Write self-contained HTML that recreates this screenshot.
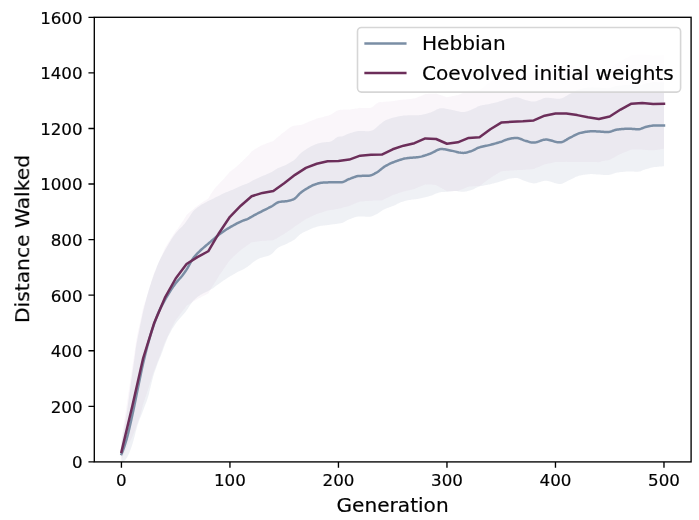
<!DOCTYPE html>
<html><head><meta charset="utf-8"><style>
html,body{margin:0;padding:0;background:#fff;}
svg{display:block;}
text{font-family:"DejaVu Sans","Liberation Sans",sans-serif;fill:#000;}
.t{opacity:0.999;} text{stroke:#000;stroke-width:0.2px;}
</style></head><body>
<svg width="699" height="520" viewBox="0 0 699 520">
<rect width="699" height="520" fill="#fff"/>
<polygon points="121.4,443.0 122.5,437.3 123.6,431.4 124.7,425.1 125.8,418.6 126.9,411.9 127.9,404.7 129.0,397.0 130.1,389.0 131.2,381.1 132.3,373.5 133.4,366.0 134.5,358.2 135.5,350.6 136.6,343.6 137.7,337.7 138.8,332.4 139.9,327.1 141.0,321.8 142.0,316.7 143.1,311.8 144.2,307.2 145.3,302.8 146.4,298.6 147.5,294.6 148.6,290.8 149.6,287.3 150.7,283.9 151.8,280.6 152.9,277.4 154.0,274.3 155.1,271.4 156.2,268.5 157.2,265.8 158.3,263.2 159.4,260.8 160.5,258.6 161.6,256.5 162.7,254.6 163.7,252.6 164.8,250.7 165.9,248.8 167.0,246.8 168.1,244.9 169.2,243.1 170.3,241.3 171.3,239.5 172.4,237.8 173.5,236.2 174.6,234.7 175.7,233.2 176.8,231.9 177.9,230.7 178.9,229.6 180.0,228.6 181.1,227.5 182.2,226.4 183.3,225.1 184.4,223.9 185.5,222.5 186.5,221.1 187.6,219.6 188.7,217.9 189.8,216.2 190.9,214.4 192.0,212.8 193.0,211.5 194.1,210.3 195.2,209.3 196.3,208.4 197.4,207.5 198.5,206.7 199.6,206.0 200.6,205.3 201.7,204.6 202.8,204.0 203.9,203.4 205.0,202.8 206.1,202.2 207.2,201.6 208.2,201.1 209.3,200.5 210.4,200.0 211.5,199.5 212.6,199.0 213.7,198.4 214.7,197.8 215.8,197.3 216.9,196.7 218.0,196.2 219.1,195.7 220.2,195.2 221.3,194.6 222.3,194.1 223.4,193.5 224.5,193.1 225.6,192.6 226.7,192.1 227.8,191.7 228.9,191.2 229.9,190.8 231.0,190.3 232.1,189.9 233.2,189.4 234.3,189.0 235.4,188.5 236.4,188.0 237.5,187.5 238.6,187.0 239.7,186.5 240.8,186.0 241.9,185.5 243.0,185.1 244.0,184.7 245.1,184.3 246.2,183.9 247.3,183.5 248.4,183.0 249.5,182.4 250.6,181.8 251.6,181.2 252.7,180.6 253.8,180.0 254.9,179.5 256.0,179.0 257.1,178.5 258.2,178.0 259.2,177.5 260.3,177.0 261.4,176.6 262.5,176.1 263.6,175.6 264.7,175.2 265.7,174.7 266.8,174.2 267.9,173.8 269.0,173.3 270.1,172.8 271.2,172.3 272.3,171.7 273.3,171.1 274.4,170.3 275.5,169.6 276.6,168.9 277.7,168.2 278.8,167.8 279.9,167.4 280.9,167.0 282.0,166.6 283.1,166.1 284.2,165.7 285.3,165.2 286.4,164.7 287.4,164.1 288.5,163.5 289.6,162.8 290.7,162.2 291.8,161.5 292.9,160.9 294.0,160.2 295.0,159.3 296.1,158.2 297.2,157.0 298.3,155.7 299.4,154.5 300.5,153.5 301.6,152.6 302.6,151.7 303.7,150.9 304.8,150.2 305.9,149.5 307.0,148.8 308.1,148.1 309.2,147.5 310.2,146.8 311.3,146.2 312.4,145.7 313.5,145.2 314.6,144.7 315.7,144.3 316.7,143.9 317.8,143.6 318.9,143.2 320.0,142.9 321.1,142.7 322.2,142.6 323.3,142.4 324.3,142.3 325.4,142.2 326.5,142.1 327.6,142.0 328.7,141.9 329.8,141.8 330.9,141.5 331.9,141.0 333.0,140.3 334.1,139.5 335.2,138.6 336.3,137.8 337.4,137.1 338.4,136.7 339.5,136.5 340.6,136.5 341.7,136.4 342.8,136.2 343.9,135.8 345.0,135.3 346.0,134.8 347.1,134.3 348.2,133.8 349.3,133.5 350.4,133.1 351.5,132.8 352.6,132.4 353.6,132.0 354.7,131.7 355.8,131.4 356.9,131.2 358.0,131.0 359.1,131.0 360.1,131.0 361.2,131.0 362.3,131.1 363.4,131.1 364.5,131.1 365.6,131.2 366.7,131.2 367.7,131.2 368.8,131.2 369.9,131.0 371.0,130.8 372.1,130.4 373.2,129.9 374.3,129.2 375.3,128.4 376.4,127.5 377.5,126.5 378.6,125.5 379.7,124.5 380.8,123.7 381.9,122.8 382.9,122.0 384.0,121.2 385.1,120.6 386.2,120.1 387.3,119.6 388.4,119.2 389.4,118.8 390.5,118.4 391.6,118.0 392.7,117.7 393.8,117.4 394.9,117.2 396.0,116.9 397.0,116.7 398.1,116.5 399.2,116.3 400.3,116.1 401.4,115.9 402.5,115.8 403.6,115.6 404.6,115.5 405.7,115.4 406.8,115.4 407.9,115.3 409.0,115.3 410.1,115.3 411.1,115.3 412.2,115.3 413.3,115.3 414.4,115.3 415.5,115.3 416.6,115.3 417.7,115.3 418.7,115.2 419.8,115.1 420.9,114.9 422.0,114.7 423.1,114.5 424.2,114.3 425.3,114.0 426.3,113.7 427.4,113.4 428.5,113.1 429.6,112.7 430.7,112.4 431.8,112.0 432.9,111.5 433.9,110.9 435.0,110.4 436.1,109.8 437.2,109.3 438.3,108.9 439.4,108.5 440.4,108.3 441.5,108.2 442.6,108.2 443.7,108.3 444.8,108.5 445.9,108.7 447.0,108.9 448.0,109.1 449.1,109.4 450.2,109.6 451.3,109.8 452.4,110.0 453.5,110.3 454.6,110.5 455.6,110.8 456.7,111.1 457.8,111.3 458.9,111.6 460.0,111.8 461.1,111.9 462.1,112.0 463.2,112.0 464.3,111.9 465.4,111.7 466.5,111.5 467.6,111.2 468.7,110.8 469.7,110.4 470.8,110.1 471.9,109.6 473.0,109.1 474.1,108.6 475.2,108.0 476.3,107.4 477.3,106.8 478.4,106.3 479.5,105.9 480.6,105.6 481.7,105.4 482.8,105.1 483.9,104.9 484.9,104.7 486.0,104.5 487.1,104.4 488.2,104.2 489.3,103.9 490.4,103.7 491.4,103.5 492.5,103.2 493.6,103.0 494.7,102.7 495.8,102.4 496.9,102.2 498.0,101.9 499.0,101.6 500.1,101.3 501.2,101.0 502.3,100.6 503.4,100.2 504.5,99.8 505.6,99.4 506.6,99.1 507.7,98.7 508.8,98.4 509.9,98.2 511.0,98.0 512.1,97.8 513.1,97.6 514.2,97.4 515.3,97.3 516.4,97.3 517.5,97.4 518.6,97.6 519.7,97.9 520.7,98.3 521.8,98.8 522.9,99.2 524.0,99.6 525.1,99.9 526.2,100.2 527.3,100.5 528.3,100.8 529.4,101.1 530.5,101.3 531.6,101.5 532.7,101.6 533.8,101.6 534.8,101.5 535.9,101.3 537.0,101.0 538.1,100.6 539.2,100.1 540.3,99.7 541.4,99.2 542.4,98.7 543.5,98.3 544.6,98.0 545.7,97.8 546.8,97.7 547.9,97.7 549.0,97.8 550.0,97.9 551.1,98.0 552.2,98.2 553.3,98.3 554.4,98.5 555.5,98.6 556.6,98.8 557.6,98.8 558.7,98.8 559.8,98.8 560.9,98.6 562.0,98.2 563.1,97.8 564.1,97.2 565.2,96.6 566.3,95.9 567.4,95.2 568.5,94.6 569.6,94.0 570.7,93.4 571.7,92.9 572.8,92.4 573.9,91.8 575.0,91.2 576.1,90.6 577.2,90.1 578.3,89.7 579.3,89.3 580.4,89.0 581.5,88.8 582.6,88.5 583.7,88.3 584.8,88.1 585.8,87.9 586.9,87.8 588.0,87.6 589.1,87.5 590.2,87.4 591.3,87.4 592.4,87.3 593.4,87.4 594.5,87.4 595.6,87.4 596.7,87.5 597.8,87.6 598.9,87.6 600.0,87.7 601.0,87.8 602.1,87.9 603.2,88.0 604.3,88.1 605.4,88.1 606.5,88.2 607.6,88.2 608.6,88.2 609.7,88.0 610.8,87.7 611.9,87.3 613.0,86.9 614.1,86.6 615.1,86.2 616.2,86.0 617.3,85.8 618.4,85.7 619.5,85.6 620.6,85.5 621.7,85.4 622.7,85.3 623.8,85.2 624.9,85.1 626.0,85.1 627.1,85.1 628.2,85.0 629.3,85.0 630.3,85.1 631.4,85.2 632.5,85.3 633.6,85.4 634.7,85.5 635.8,85.6 636.8,85.7 637.9,85.7 639.0,85.6 640.1,85.4 641.2,85.1 642.3,84.7 643.4,84.3 644.4,83.9 645.5,83.6 646.6,83.3 647.7,83.1 648.8,82.9 649.9,82.7 651.0,82.5 652.0,82.3 653.1,82.2 654.2,82.1 655.3,82.1 656.4,82.1 657.5,82.2 658.5,82.2 659.6,82.2 660.7,82.2 661.8,82.3 662.9,82.3 664.0,82.3 664.0,166.2 662.9,166.3 661.8,166.4 660.7,166.5 659.6,166.6 658.5,166.7 657.5,166.8 656.4,166.9 655.3,167.0 654.2,167.1 653.1,167.3 652.0,167.6 651.0,167.8 649.9,168.1 648.8,168.4 647.7,168.7 646.6,169.0 645.5,169.3 644.4,169.7 643.4,170.1 642.3,170.6 641.2,171.0 640.1,171.4 639.0,171.6 637.9,171.8 636.8,171.8 635.8,171.7 634.7,171.7 633.6,171.6 632.5,171.5 631.4,171.5 630.3,171.4 629.3,171.4 628.2,171.5 627.1,171.5 626.0,171.6 624.9,171.7 623.8,171.8 622.7,171.9 621.7,172.0 620.6,172.1 619.5,172.3 618.4,172.4 617.3,172.5 616.2,172.7 615.1,173.0 614.1,173.4 613.0,173.8 611.9,174.2 610.8,174.5 609.7,174.8 608.6,175.0 607.6,175.1 606.5,175.1 605.4,175.1 604.3,175.0 603.2,174.9 602.1,174.8 601.0,174.7 600.0,174.6 598.9,174.5 597.8,174.5 596.7,174.4 595.6,174.3 594.5,174.2 593.4,174.2 592.4,174.1 591.3,174.1 590.2,174.1 589.1,174.2 588.0,174.3 586.9,174.4 585.8,174.5 584.8,174.7 583.7,174.8 582.6,175.0 581.5,175.2 580.4,175.4 579.3,175.6 578.3,175.9 577.2,176.4 576.1,176.8 575.0,177.3 573.9,177.9 572.8,178.4 571.7,178.9 570.7,179.4 569.6,179.9 568.5,180.5 567.4,181.1 566.3,181.7 565.2,182.3 564.1,182.8 563.1,183.3 562.0,183.7 560.9,183.9 559.8,184.0 558.7,183.9 557.6,183.7 556.6,183.5 555.5,183.2 554.4,182.9 553.3,182.6 552.2,182.2 551.1,181.8 550.0,181.5 549.0,181.2 547.9,181.0 546.8,180.8 545.7,180.7 544.6,180.8 543.5,180.9 542.4,181.2 541.4,181.5 540.3,181.9 539.2,182.2 538.1,182.6 537.0,182.9 535.9,183.2 534.8,183.3 533.8,183.4 532.7,183.3 531.6,183.1 530.5,182.8 529.4,182.5 528.3,182.2 527.3,181.8 526.2,181.4 525.1,181.1 524.0,180.7 522.9,180.3 521.8,179.8 520.7,179.3 519.7,178.8 518.6,178.4 517.5,178.1 516.4,178.0 515.3,178.0 514.2,178.1 513.1,178.2 512.1,178.3 511.0,178.5 509.9,178.6 508.8,178.8 507.7,179.1 506.6,179.4 505.6,179.8 504.5,180.2 503.4,180.6 502.3,181.0 501.2,181.3 500.1,181.6 499.0,181.9 498.0,182.2 496.9,182.5 495.8,182.8 494.7,183.1 493.6,183.4 492.5,183.6 491.4,183.9 490.4,184.2 489.3,184.4 488.2,184.6 487.1,184.9 486.0,185.1 484.9,185.2 483.9,185.4 482.8,185.7 481.7,185.9 480.6,186.1 479.5,186.4 478.4,186.8 477.3,187.3 476.3,187.8 475.2,188.3 474.1,188.9 473.0,189.4 471.9,189.8 470.8,190.2 469.7,190.5 468.7,190.8 467.6,191.1 466.5,191.4 465.4,191.6 464.3,191.8 463.2,191.8 462.1,191.8 461.1,191.7 460.0,191.5 458.9,191.4 457.8,191.2 456.7,191.1 455.6,191.1 454.6,191.1 453.5,191.1 452.4,191.2 451.3,191.3 450.2,191.5 449.1,191.6 448.0,191.7 447.0,191.7 445.9,191.8 444.8,191.9 443.7,191.9 442.6,192.0 441.5,192.0 440.4,192.2 439.4,192.4 438.3,192.7 437.2,193.2 436.1,193.6 435.0,194.1 433.9,194.6 432.9,195.1 431.8,195.5 430.7,195.8 429.6,196.1 428.5,196.4 427.4,196.7 426.3,197.0 425.3,197.3 424.2,197.5 423.1,197.8 422.0,198.1 420.9,198.3 419.8,198.6 418.7,198.8 417.7,198.9 416.6,199.1 415.5,199.2 414.4,199.3 413.3,199.5 412.2,199.6 411.1,199.7 410.1,199.9 409.0,200.1 407.9,200.2 406.8,200.5 405.7,200.7 404.6,201.0 403.6,201.4 402.5,201.7 401.4,202.1 400.3,202.6 399.2,203.0 398.1,203.6 397.0,204.1 396.0,204.7 394.9,205.2 393.8,205.7 392.7,206.1 391.6,206.5 390.5,206.9 389.4,207.3 388.4,207.7 387.3,208.1 386.2,208.5 385.1,208.9 384.0,209.4 382.9,210.1 381.9,210.8 380.8,211.6 379.7,212.3 378.6,213.1 377.5,213.8 376.4,214.3 375.3,214.8 374.3,215.3 373.2,215.8 372.1,216.2 371.0,216.5 369.9,216.7 368.8,216.8 367.7,216.8 366.7,216.7 365.6,216.7 364.5,216.6 363.4,216.6 362.3,216.5 361.2,216.5 360.1,216.5 359.1,216.5 358.0,216.5 356.9,216.7 355.8,217.0 354.7,217.3 353.6,217.7 352.6,218.1 351.5,218.5 350.4,218.9 349.3,219.3 348.2,219.8 347.1,220.3 346.0,221.0 345.0,221.6 343.9,222.2 342.8,222.7 341.7,223.1 340.6,223.3 339.5,223.5 338.4,223.6 337.4,223.7 336.3,223.9 335.2,224.0 334.1,224.2 333.0,224.3 331.9,224.5 330.9,224.6 329.8,224.8 328.7,224.9 327.6,225.0 326.5,225.2 325.4,225.3 324.3,225.4 323.3,225.6 322.2,225.7 321.1,225.8 320.0,226.0 318.9,226.3 317.8,226.5 316.7,226.8 315.7,227.2 314.6,227.5 313.5,227.8 312.4,228.2 311.3,228.7 310.2,229.2 309.2,229.7 308.1,230.2 307.0,230.8 305.9,231.2 304.8,231.8 303.7,232.3 302.6,232.8 301.6,233.5 300.5,234.1 299.4,235.0 298.3,236.0 297.2,237.1 296.1,238.2 295.0,239.2 294.0,240.0 292.9,240.6 291.8,241.2 290.7,241.7 289.6,242.3 288.5,242.8 287.4,243.4 286.4,243.9 285.3,244.4 284.2,244.9 283.1,245.3 282.0,245.8 280.9,246.3 279.9,246.8 278.8,247.3 277.7,248.0 276.6,249.0 275.5,250.1 274.4,251.3 273.3,252.4 272.3,253.5 271.2,254.3 270.1,254.9 269.0,255.4 267.9,255.9 266.8,256.2 265.7,256.5 264.7,256.8 263.6,257.1 262.5,257.4 261.4,257.7 260.3,258.1 259.2,258.5 258.2,259.0 257.1,259.6 256.0,260.3 254.9,261.0 253.8,261.8 252.7,262.6 251.6,263.5 250.6,264.4 249.5,265.3 248.4,266.1 247.3,266.9 246.2,267.6 245.1,268.3 244.0,268.9 243.0,269.4 241.9,269.9 240.8,270.4 239.7,271.0 238.6,271.5 237.5,272.1 236.4,272.7 235.4,273.3 234.3,273.9 233.2,274.5 232.1,275.2 231.0,275.8 229.9,276.4 228.9,277.1 227.8,277.8 226.7,278.5 225.6,279.2 224.5,279.9 223.4,280.6 222.3,281.4 221.3,282.1 220.2,282.9 219.1,283.8 218.0,284.6 216.9,285.3 215.8,286.1 214.7,286.9 213.7,287.7 212.6,288.4 211.5,289.1 210.4,289.7 209.3,290.3 208.2,290.9 207.2,291.4 206.1,292.0 205.0,292.5 203.9,293.1 202.8,293.6 201.7,294.2 200.6,294.8 199.6,295.5 198.5,296.3 197.4,297.1 196.3,297.9 195.2,298.9 194.1,299.9 193.0,301.0 192.0,302.4 190.9,303.9 189.8,305.6 188.7,307.3 187.6,309.0 186.5,310.5 185.5,311.9 184.4,313.2 183.3,314.6 182.2,315.8 181.1,317.1 180.0,318.3 178.9,319.5 177.9,320.8 176.8,322.1 175.7,323.6 174.6,325.2 173.5,326.9 172.4,328.6 171.3,330.5 170.3,332.4 169.2,334.4 168.1,336.6 167.0,339.2 165.9,341.9 164.8,344.8 163.7,347.8 162.7,350.7 161.6,353.6 160.5,356.4 159.4,359.1 158.3,361.8 157.2,364.5 156.2,367.5 155.1,370.5 154.0,373.8 152.9,377.6 151.8,381.9 150.7,386.5 149.6,391.1 148.6,395.2 147.5,398.8 146.4,401.9 145.3,404.7 144.2,407.6 143.1,410.5 142.0,413.4 141.0,416.0 139.9,418.6 138.8,421.4 137.7,424.7 136.6,428.4 135.5,432.6 134.5,436.7 133.4,440.8 132.3,444.4 131.2,447.7 130.1,450.7 129.0,453.4 127.9,455.8 126.9,457.7 125.8,459.3 124.7,460.6 123.6,461.5 122.5,462.2 121.4,462.5" fill="rgb(122,138,172)" fill-opacity="0.12"/>
<polygon points="121.4,440.8 122.5,433.1 123.6,425.6 124.7,418.3 125.8,411.2 126.9,404.1 127.9,396.8 129.0,389.3 130.1,381.8 131.2,374.5 132.3,367.4 133.4,360.1 134.5,352.6 135.5,345.4 136.6,338.8 137.7,333.1 138.8,328.1 139.9,323.1 141.0,318.1 142.0,313.2 143.1,308.3 144.2,304.8 145.3,301.3 146.4,297.8 147.5,294.3 148.6,290.9 149.6,287.4 150.7,283.9 151.8,280.4 152.9,277.0 154.0,273.5 155.1,271.0 156.2,268.4 157.2,265.9 158.3,263.4 159.4,260.9 160.5,258.4 161.6,255.9 162.7,253.4 163.7,250.9 164.8,248.4 165.9,246.5 167.0,244.7 168.1,243.0 169.2,241.2 170.3,239.6 171.3,237.9 172.4,236.2 173.5,234.6 174.6,232.9 175.7,231.1 176.8,229.8 177.9,228.4 178.9,226.9 180.0,225.3 181.1,223.7 182.2,222.1 183.3,220.4 184.4,218.6 185.5,216.9 186.5,215.1 187.6,214.1 188.7,213.1 189.8,212.1 190.9,211.2 192.0,210.3 193.0,209.4 194.1,208.5 195.2,207.6 196.3,206.7 197.4,205.8 198.5,205.1 199.6,204.3 200.6,203.5 201.7,202.8 202.8,202.0 203.9,201.3 205.0,200.6 206.1,199.9 207.2,199.2 208.2,198.5 209.3,196.7 210.4,194.8 211.5,193.1 212.6,191.5 213.7,190.0 214.7,188.6 215.8,187.3 216.9,186.1 218.0,184.9 219.1,183.7 220.2,182.6 221.3,181.6 222.3,180.5 223.4,179.2 224.5,178.0 225.6,176.7 226.7,175.5 227.8,174.2 228.9,173.0 229.9,171.7 231.0,170.9 232.1,170.1 233.2,169.3 234.3,168.5 235.4,167.6 236.4,166.7 237.5,165.7 238.6,164.7 239.7,163.7 240.8,162.6 241.9,161.7 243.0,160.6 244.0,159.6 245.1,158.5 246.2,157.4 247.3,156.3 248.4,155.2 249.5,154.0 250.6,152.8 251.6,151.5 252.7,150.8 253.8,150.1 254.9,149.3 256.0,148.6 257.1,147.9 258.2,147.3 259.2,146.7 260.3,146.1 261.4,145.6 262.5,145.0 263.6,144.6 264.7,144.2 265.7,143.8 266.8,143.3 267.9,142.9 269.0,142.5 270.1,142.1 271.2,141.7 272.3,141.4 273.3,141.0 274.4,140.0 275.5,139.1 276.6,138.1 277.7,137.2 278.8,136.3 279.9,135.4 280.9,134.5 282.0,133.6 283.1,132.8 284.2,131.9 285.3,131.0 286.4,130.2 287.4,129.3 288.5,128.4 289.6,127.7 290.7,127.1 291.8,126.5 292.9,126.1 294.0,125.8 295.0,125.5 296.1,125.4 297.2,125.3 298.3,125.2 299.4,125.0 300.5,124.9 301.6,124.7 302.6,124.4 303.7,124.0 304.8,123.5 305.9,122.9 307.0,122.5 308.1,122.1 309.2,121.6 310.2,121.2 311.3,120.8 312.4,120.3 313.5,119.9 314.6,119.5 315.7,119.0 316.7,118.6 317.8,118.3 318.9,118.0 320.0,117.7 321.1,117.5 322.2,117.2 323.3,116.9 324.3,116.6 325.4,116.3 326.5,116.0 327.6,115.7 328.7,115.5 329.8,115.1 330.9,114.5 331.9,113.9 333.0,113.2 334.1,112.4 335.2,111.7 336.3,111.1 337.4,110.6 338.4,110.2 339.5,110.0 340.6,109.8 341.7,109.8 342.8,109.7 343.9,109.6 345.0,109.6 346.0,109.6 347.1,109.6 348.2,109.6 349.3,109.7 350.4,109.5 351.5,109.3 352.6,109.1 353.6,108.9 354.7,108.7 355.8,108.5 356.9,108.4 358.0,108.2 359.1,108.0 360.1,107.8 361.2,107.9 362.3,107.9 363.4,108.0 364.5,108.1 365.6,108.1 366.7,108.1 367.7,108.1 368.8,108.0 369.9,108.0 371.0,107.7 372.1,107.2 373.2,106.4 374.3,105.5 375.3,104.5 376.4,103.6 377.5,102.9 378.6,102.3 379.7,102.1 380.8,102.1 381.9,102.3 382.9,102.0 384.0,101.8 385.1,101.7 386.2,101.6 387.3,101.5 388.4,101.5 389.4,101.4 390.5,101.3 391.6,101.2 392.7,101.0 393.8,100.9 394.9,100.7 396.0,100.6 397.0,100.4 398.1,100.3 399.2,100.1 400.3,100.0 401.4,99.8 402.5,99.7 403.6,99.5 404.6,99.5 405.7,99.4 406.8,99.3 407.9,99.2 409.0,99.1 410.1,99.0 411.1,98.9 412.2,98.8 413.3,98.6 414.4,98.5 415.5,98.1 416.6,97.7 417.7,97.3 418.7,96.8 419.8,96.4 420.9,95.9 422.0,95.4 423.1,94.9 424.2,94.4 425.3,93.9 426.3,93.9 427.4,93.9 428.5,93.8 429.6,93.8 430.7,93.8 431.8,93.8 432.9,93.7 433.9,93.7 435.0,93.7 436.1,93.6 437.2,94.0 438.3,94.3 439.4,94.7 440.4,95.1 441.5,95.4 442.6,95.8 443.7,96.2 444.8,96.5 445.9,96.9 447.0,97.3 448.0,97.0 449.1,96.8 450.2,96.6 451.3,96.4 452.4,96.1 453.5,95.9 454.6,95.7 455.6,95.5 456.7,95.3 457.8,95.2 458.9,94.7 460.0,94.2 461.1,93.8 462.1,93.3 463.2,92.8 464.3,92.4 465.4,91.9 466.5,91.5 467.6,91.0 468.7,90.5 469.7,90.5 470.8,90.4 471.9,90.3 473.0,90.2 474.1,90.2 475.2,90.1 476.3,90.0 477.3,90.0 478.4,89.9 479.5,89.8 480.6,89.0 481.7,88.2 482.8,87.4 483.9,86.5 484.9,85.7 486.0,84.9 487.1,84.1 488.2,83.3 489.3,82.4 490.4,81.6 491.4,80.9 492.5,80.3 493.6,79.6 494.7,78.9 495.8,78.2 496.9,77.5 498.0,76.9 499.0,76.2 500.1,75.5 501.2,74.8 502.3,74.7 503.4,74.6 504.5,74.5 505.6,74.4 506.6,74.4 507.7,74.3 508.8,74.2 509.9,74.1 511.0,74.0 512.1,73.9 513.1,73.8 514.2,73.7 515.3,73.7 516.4,73.6 517.5,73.5 518.6,73.5 519.7,73.4 520.7,73.3 521.8,73.3 522.9,73.2 524.0,73.1 525.1,73.0 526.2,72.9 527.3,72.8 528.3,72.7 529.4,72.7 530.5,72.6 531.6,72.5 532.7,72.4 533.8,72.3 534.8,71.8 535.9,71.3 537.0,70.8 538.1,70.4 539.2,69.9 540.3,69.4 541.4,68.9 542.4,68.4 543.5,68.0 544.6,67.5 545.7,67.2 546.8,67.0 547.9,66.8 549.0,66.5 550.0,66.3 551.1,66.1 552.2,65.9 553.3,65.6 554.4,65.4 555.5,65.2 556.6,65.2 557.6,65.2 558.7,65.1 559.8,65.1 560.9,65.1 562.0,65.1 563.1,65.1 564.1,65.1 565.2,65.1 566.3,65.1 567.4,65.3 568.5,65.4 569.6,65.6 570.7,65.7 571.7,65.9 572.8,66.1 573.9,66.2 575.0,66.4 576.1,66.5 577.2,66.7 578.3,66.9 579.3,67.1 580.4,67.4 581.5,67.6 582.6,67.8 583.7,68.0 584.8,68.2 585.8,68.4 586.9,68.7 588.0,68.9 589.1,69.0 590.2,69.2 591.3,69.4 592.4,69.5 593.4,69.7 594.5,69.8 595.6,70.0 596.7,70.2 597.8,70.3 598.9,70.5 600.0,70.2 601.0,70.0 602.1,69.7 603.2,69.5 604.3,69.2 605.4,69.0 606.5,68.7 607.6,68.5 608.6,68.2 609.7,68.0 610.8,67.3 611.9,66.6 613.0,65.9 614.1,65.2 615.1,64.5 616.2,63.8 617.3,63.1 618.4,62.4 619.5,61.7 620.6,61.0 621.7,60.4 622.7,59.8 623.8,59.2 624.9,58.6 626.0,58.0 627.1,57.5 628.2,56.9 629.3,56.3 630.3,55.7 631.4,55.1 632.5,55.0 633.6,54.9 634.7,54.9 635.8,54.8 636.8,54.7 637.9,54.6 639.0,54.5 640.1,54.4 641.2,54.4 642.3,54.3 643.4,54.4 644.4,54.5 645.5,54.6 646.6,54.7 647.7,54.8 648.8,54.9 649.9,55.0 651.0,55.2 652.0,55.3 653.1,55.4 654.2,55.3 655.3,55.3 656.4,55.3 657.5,55.3 658.5,55.2 659.6,55.2 660.7,55.2 661.8,55.1 662.9,55.1 664.0,55.1 664.0,148.7 662.9,148.9 661.8,149.1 660.7,149.3 659.6,149.4 658.5,149.6 657.5,149.8 656.4,149.9 655.3,150.1 654.2,150.2 653.1,150.3 652.0,150.3 651.0,150.3 649.9,150.2 648.8,150.2 647.7,150.1 646.6,150.0 645.5,149.9 644.4,149.8 643.4,149.7 642.3,149.5 641.2,149.5 640.1,149.6 639.0,149.6 637.9,149.6 636.8,149.6 635.8,149.6 634.7,149.6 633.6,149.5 632.5,149.5 631.4,149.5 630.3,149.9 629.3,150.4 628.2,150.8 627.1,151.3 626.0,151.7 624.9,152.2 623.8,152.6 622.7,153.1 621.7,153.5 620.6,154.0 619.5,154.5 618.4,155.1 617.3,155.6 616.2,156.2 615.1,156.8 614.1,157.4 613.0,158.0 611.9,158.6 610.8,159.2 609.7,159.8 608.6,160.0 607.6,160.2 606.5,160.4 605.4,160.6 604.3,160.8 603.2,161.1 602.1,161.3 601.0,161.6 600.0,161.9 598.9,162.2 597.8,162.2 596.7,162.1 595.6,162.0 594.5,162.0 593.4,162.0 592.4,162.0 591.3,162.0 590.2,162.0 589.1,162.0 588.0,162.0 586.9,162.0 585.8,162.0 584.8,162.0 583.7,162.0 582.6,162.0 581.5,162.0 580.4,161.9 579.3,161.9 578.3,161.9 577.2,161.9 576.1,161.9 575.0,162.0 573.9,162.0 572.8,162.0 571.7,162.0 570.7,162.0 569.6,162.0 568.5,161.9 567.4,161.9 566.3,161.8 565.2,161.9 564.1,162.0 563.1,162.0 562.0,162.1 560.9,162.1 559.8,162.1 558.7,162.1 557.6,162.1 556.6,162.1 555.5,162.1 554.4,162.3 553.3,162.5 552.2,162.7 551.1,163.0 550.0,163.2 549.0,163.4 547.9,163.6 546.8,163.9 545.7,164.1 544.6,164.3 543.5,164.8 542.4,165.2 541.4,165.7 540.3,166.2 539.2,166.7 538.1,167.1 537.0,167.6 535.9,168.1 534.8,168.5 533.8,169.0 532.7,169.1 531.6,169.2 530.5,169.3 529.4,169.4 528.3,169.4 527.3,169.5 526.2,169.6 525.1,169.7 524.0,169.8 522.9,169.9 521.8,169.9 520.7,170.0 519.7,170.0 518.6,170.1 517.5,170.1 516.4,170.2 515.3,170.2 514.2,170.3 513.1,170.4 512.1,170.4 511.0,170.5 509.9,170.6 508.8,170.7 507.7,170.7 506.6,170.8 505.6,170.9 504.5,171.0 503.4,171.1 502.3,171.2 501.2,171.2 500.1,171.9 499.0,172.6 498.0,173.2 496.9,173.9 495.8,174.6 494.7,175.2 493.6,175.9 492.5,176.6 491.4,177.2 490.4,177.9 489.3,178.7 488.2,179.5 487.1,180.3 486.0,181.1 484.9,181.9 483.9,182.7 482.8,183.6 481.7,184.4 480.6,185.2 479.5,186.0 478.4,186.0 477.3,186.1 476.3,186.1 475.2,186.2 474.1,186.2 473.0,186.3 471.9,186.4 470.8,186.4 469.7,186.5 468.7,186.5 467.6,187.0 466.5,187.4 465.4,187.9 464.3,188.3 463.2,188.7 462.1,189.2 461.1,189.6 460.0,190.1 458.9,190.5 457.8,190.9 456.7,191.0 455.6,191.1 454.6,191.1 453.5,191.2 452.4,191.2 451.3,191.2 450.2,191.2 449.1,191.2 448.0,191.2 447.0,191.2 445.9,190.6 444.8,189.9 443.7,189.3 442.6,188.7 441.5,188.1 440.4,187.5 439.4,186.9 438.3,186.3 437.2,185.7 436.1,185.1 435.0,185.0 433.9,184.8 432.9,184.7 431.8,184.6 430.7,184.6 429.6,184.5 428.5,184.5 427.4,184.4 426.3,184.4 425.3,184.3 424.2,184.8 423.1,185.2 422.0,185.7 420.9,186.2 419.8,186.7 418.7,187.1 417.7,187.6 416.6,188.1 415.5,188.6 414.4,189.0 413.3,189.3 412.2,189.5 411.1,189.8 410.1,190.0 409.0,190.3 407.9,190.5 406.8,190.8 405.7,191.0 404.6,191.3 403.6,191.5 402.5,191.9 401.4,192.3 400.3,192.6 399.2,193.0 398.1,193.3 397.0,193.7 396.0,194.1 394.9,194.4 393.8,194.8 392.7,195.1 391.6,195.7 390.5,196.2 389.4,196.7 388.4,197.3 387.3,197.8 386.2,198.3 385.1,198.8 384.0,199.4 382.9,199.9 381.9,200.4 380.8,200.4 379.7,200.5 378.6,200.5 377.5,200.5 376.4,200.6 375.3,200.6 374.3,200.6 373.2,200.6 372.1,200.7 371.0,200.7 369.9,200.8 368.8,200.9 367.7,200.9 366.7,201.0 365.6,201.1 364.5,201.2 363.4,201.3 362.3,201.4 361.2,201.4 360.1,201.5 359.1,201.9 358.0,202.3 356.9,202.8 355.8,203.2 354.7,203.6 353.6,204.1 352.6,204.6 351.5,205.0 350.4,205.5 349.3,206.0 348.2,206.3 347.1,206.5 346.0,206.8 345.0,207.1 343.9,207.3 342.8,207.6 341.7,207.9 340.6,208.2 339.5,208.5 338.4,208.8 337.4,208.9 336.3,209.1 335.2,209.3 334.1,209.5 333.0,209.7 331.9,209.8 330.9,210.0 329.8,210.2 328.7,210.3 327.6,210.5 326.5,210.9 325.4,211.3 324.3,211.6 323.3,212.0 322.2,212.3 321.1,212.7 320.0,213.0 318.9,213.3 317.8,213.7 316.7,214.0 315.7,214.5 314.6,215.0 313.5,215.5 312.4,216.0 311.3,216.5 310.2,217.0 309.2,217.5 308.1,218.0 307.0,218.5 305.9,219.0 304.8,219.7 303.7,220.5 302.6,221.2 301.6,222.0 300.5,222.7 299.4,223.4 298.3,224.2 297.2,224.9 296.1,225.6 295.0,226.3 294.0,227.1 292.9,227.9 291.8,228.7 290.7,229.4 289.6,230.2 288.5,230.9 287.4,231.7 286.4,232.4 285.3,233.1 284.2,233.9 283.1,234.5 282.0,235.2 280.9,235.8 279.9,236.5 278.8,237.1 277.7,237.7 276.6,238.4 275.5,239.0 274.4,239.6 273.3,240.3 272.3,240.3 271.2,240.4 270.1,240.4 269.0,240.5 267.9,240.6 266.8,240.6 265.7,240.7 264.7,240.7 263.6,240.8 262.5,240.8 261.4,241.0 260.3,241.1 259.2,241.3 258.2,241.5 257.1,241.6 256.0,241.8 254.9,241.9 253.8,242.0 252.7,242.2 251.6,242.3 250.6,243.1 249.5,243.8 248.4,244.6 247.3,245.4 246.2,246.1 245.1,246.9 244.0,247.6 243.0,248.4 241.9,249.2 240.8,250.0 239.7,250.9 238.6,251.9 237.5,252.9 236.4,253.9 235.4,254.8 234.3,255.8 233.2,256.8 232.1,257.9 231.0,258.9 229.9,259.9 228.9,261.5 227.8,263.1 226.7,264.6 225.6,266.2 224.5,267.7 223.4,269.3 222.3,270.9 221.3,272.4 220.2,274.0 219.1,275.6 218.0,277.4 216.9,279.2 215.8,281.0 214.7,282.7 213.7,284.5 212.6,286.3 211.5,288.1 210.4,289.9 209.3,291.7 208.2,293.5 207.2,294.1 206.1,294.6 205.0,295.2 203.9,295.7 202.8,296.3 201.7,296.8 200.6,297.4 199.6,297.9 198.5,298.5 197.4,299.1 196.3,299.7 195.2,300.4 194.1,301.1 193.0,301.7 192.0,302.4 190.9,303.1 189.8,303.8 188.7,304.4 187.6,305.1 186.5,305.8 185.5,307.2 184.4,308.7 183.3,310.1 182.2,311.5 181.1,313.0 180.0,314.4 178.9,315.9 177.9,317.3 176.8,318.7 175.7,320.2 174.6,322.2 173.5,324.2 172.4,326.4 171.3,328.5 170.3,330.8 169.2,333.1 168.1,335.4 167.0,337.7 165.9,340.1 164.8,342.4 163.7,345.4 162.7,348.3 161.6,351.3 160.5,354.2 159.4,357.1 158.3,360.0 157.2,362.8 156.2,365.5 155.1,368.2 154.0,370.8 152.9,374.2 151.8,377.6 150.7,381.0 149.6,384.4 148.6,387.7 147.5,391.1 146.4,394.4 145.3,397.6 144.2,400.9 143.1,404.1 142.0,408.5 141.0,412.4 139.9,416.1 138.8,419.5 137.7,422.6 136.6,425.6 135.5,428.5 134.5,431.3 133.4,434.1 132.3,436.9 131.2,439.3 130.1,441.3 129.0,443.1 127.9,445.0 126.9,447.2 125.8,449.6 124.7,452.1 123.6,454.7 122.5,457.4 121.4,460.2" fill="rgb(205,150,200)" fill-opacity="0.09"/>
<polyline points="121.43,454.12 122.52,451.51 123.60,448.59 124.69,445.39 125.77,441.94 126.86,438.28 127.94,434.26 129.03,429.81 130.11,425.06 131.20,420.15 132.28,415.22 133.37,410.20 134.45,404.99 135.54,399.68 136.62,394.35 137.71,389.10 138.79,383.83 139.88,378.51 140.96,373.23 142.05,368.11 143.13,363.25 144.22,358.65 145.30,354.20 146.39,349.92 147.47,345.80 148.56,341.86 149.64,338.07 150.73,334.41 151.81,330.90 152.90,327.54 153.98,324.35 155.07,321.30 156.15,318.36 157.24,315.56 158.32,312.92 159.41,310.46 160.49,308.19 161.58,306.07 162.66,304.06 163.75,302.11 164.83,300.18 165.92,298.25 167.00,296.36 168.09,294.52 169.17,292.73 170.26,291.01 171.34,289.34 172.43,287.72 173.51,286.16 174.60,284.66 175.68,283.23 176.77,281.90 177.85,280.66 178.94,279.47 180.02,278.28 181.11,277.05 182.20,275.72 183.28,274.30 184.37,272.81 185.45,271.24 186.54,269.61 187.62,267.83 188.71,265.90 189.79,263.90 190.88,261.93 191.96,260.10 193.05,258.50 194.13,257.10 195.22,255.80 196.30,254.59 197.39,253.44 198.47,252.35 199.56,251.27 200.64,250.24 201.73,249.26 202.81,248.32 203.90,247.38 204.98,246.45 206.07,245.53 207.15,244.62 208.24,243.72 209.32,242.82 210.41,241.91 211.49,240.99 212.58,240.04 213.66,239.07 214.75,238.11 215.83,237.16 216.92,236.27 218.00,235.41 219.09,234.57 220.17,233.76 221.26,232.96 222.34,232.19 223.43,231.44 224.51,230.71 225.60,230.00 226.68,229.31 227.77,228.64 228.85,227.98 229.94,227.33 231.02,226.70 232.11,226.08 233.19,225.47 234.28,224.87 235.36,224.28 236.45,223.69 237.53,223.12 238.62,222.56 239.70,222.03 240.79,221.54 241.87,221.09 242.96,220.68 244.05,220.30 245.13,219.91 246.22,219.50 247.30,219.04 248.39,218.52 249.47,217.95 250.56,217.34 251.64,216.71 252.73,216.08 253.81,215.46 254.90,214.87 255.98,214.30 257.07,213.74 258.15,213.18 259.24,212.63 260.32,212.08 261.41,211.53 262.49,210.98 263.58,210.42 264.66,209.87 265.75,209.33 266.83,208.79 267.92,208.25 269.00,207.70 270.09,207.14 271.17,206.57 272.26,205.98 273.34,205.30 274.43,204.54 275.51,203.76 276.60,203.04 277.68,202.46 278.77,202.09 279.85,201.88 280.94,201.72 282.02,201.60 283.11,201.49 284.19,201.39 285.28,201.28 286.36,201.15 287.45,200.98 288.53,200.76 289.62,200.51 290.70,200.22 291.79,199.88 292.87,199.49 293.96,199.03 295.04,198.36 296.13,197.39 297.21,196.25 298.30,195.05 299.38,193.90 300.47,192.92 301.55,192.08 302.64,191.28 303.73,190.53 304.81,189.81 305.90,189.12 306.98,188.47 308.07,187.83 309.15,187.20 310.24,186.59 311.32,186.01 312.41,185.47 313.49,184.99 314.58,184.58 315.66,184.21 316.75,183.85 317.83,183.50 318.92,183.20 320.00,182.94 321.09,182.75 322.17,182.64 323.26,182.57 324.34,182.51 325.43,182.46 326.51,182.42 327.60,182.38 328.68,182.36 329.77,182.36 330.85,182.36 331.94,182.36 333.02,182.36 334.11,182.36 335.19,182.36 336.28,182.36 337.36,182.36 338.45,182.36 339.53,182.36 340.62,182.36 341.70,182.26 342.79,181.98 343.87,181.57 344.96,181.07 346.04,180.52 347.13,179.97 348.21,179.45 349.30,179.02 350.38,178.63 351.47,178.20 352.55,177.77 353.64,177.34 354.72,176.94 355.81,176.58 356.89,176.29 357.98,176.08 359.06,175.97 360.15,175.92 361.23,175.88 362.32,175.86 363.41,175.84 364.49,175.82 365.58,175.80 366.66,175.78 367.75,175.74 368.83,175.69 369.92,175.54 371.00,175.25 372.09,174.84 373.17,174.34 374.26,173.79 375.34,173.21 376.43,172.63 377.51,172.00 378.60,171.24 379.68,170.39 380.77,169.50 381.85,168.60 382.94,167.73 384.02,166.93 385.11,166.24 386.19,165.63 387.28,165.05 388.36,164.49 389.45,163.95 390.53,163.44 391.62,162.95 392.70,162.49 393.79,162.05 394.87,161.63 395.96,161.24 397.04,160.86 398.13,160.48 399.21,160.12 400.30,159.76 401.38,159.43 402.47,159.11 403.55,158.83 404.64,158.58 405.72,158.36 406.81,158.18 407.89,158.04 408.98,157.93 410.06,157.83 411.15,157.74 412.23,157.67 413.32,157.59 414.40,157.52 415.49,157.43 416.57,157.33 417.66,157.21 418.74,157.07 419.83,156.89 420.91,156.65 422.00,156.37 423.09,156.06 424.17,155.73 425.26,155.40 426.34,155.06 427.43,154.68 428.51,154.28 429.60,153.87 430.68,153.46 431.77,153.00 432.85,152.47 433.94,151.89 435.02,151.30 436.11,150.72 437.19,150.18 438.28,149.71 439.36,149.34 440.45,149.10 441.53,149.01 442.62,149.05 443.70,149.16 444.79,149.32 445.87,149.52 446.96,149.75 448.04,149.99 449.13,150.24 450.21,150.47 451.30,150.68 452.38,150.89 453.47,151.13 454.55,151.39 455.64,151.66 456.72,151.93 457.81,152.18 458.89,152.41 459.98,152.61 461.06,152.77 462.15,152.87 463.23,152.90 464.32,152.85 465.40,152.70 466.49,152.48 467.57,152.20 468.66,151.89 469.74,151.56 470.83,151.24 471.91,150.86 473.00,150.39 474.08,149.86 475.17,149.30 476.25,148.74 477.34,148.21 478.42,147.73 479.51,147.35 480.59,147.04 481.68,146.76 482.76,146.51 483.85,146.28 484.94,146.06 486.02,145.84 487.11,145.62 488.19,145.38 489.28,145.12 490.36,144.85 491.45,144.56 492.53,144.27 493.62,143.98 494.70,143.67 495.79,143.36 496.87,143.05 497.96,142.73 499.04,142.40 500.13,142.07 501.21,141.71 502.30,141.31 503.38,140.88 504.47,140.45 505.55,140.03 506.64,139.63 507.72,139.27 508.81,138.97 509.89,138.73 510.98,138.53 512.06,138.34 513.15,138.17 514.23,138.03 515.32,137.93 516.40,137.90 517.49,137.99 518.57,138.22 519.66,138.58 520.74,139.00 521.83,139.46 522.91,139.92 524.00,140.34 525.08,140.68 526.17,140.98 527.25,141.30 528.34,141.63 529.42,141.94 530.51,142.21 531.59,142.42 532.68,142.57 533.76,142.62 534.85,142.55 535.93,142.36 537.02,142.06 538.10,141.70 539.19,141.30 540.27,140.89 541.36,140.48 542.44,140.12 543.53,139.83 544.62,139.64 545.70,139.56 546.79,139.61 547.87,139.74 548.96,139.94 550.04,140.19 551.13,140.48 552.21,140.79 553.30,141.11 554.38,141.43 555.47,141.72 556.55,141.97 557.64,142.17 558.72,142.30 559.81,142.34 560.89,142.25 561.98,141.98 563.06,141.58 564.15,141.06 565.23,140.46 566.32,139.82 567.40,139.15 568.49,138.50 569.57,137.88 570.66,137.34 571.74,136.82 572.83,136.26 573.91,135.68 575.00,135.11 576.08,134.55 577.17,134.03 578.25,133.57 579.34,133.19 580.42,132.90 581.51,132.66 582.59,132.43 583.68,132.22 584.76,132.01 585.85,131.82 586.93,131.66 588.02,131.51 589.10,131.39 590.19,131.30 591.27,131.25 592.36,131.23 593.44,131.24 594.53,131.28 595.61,131.33 596.70,131.39 597.78,131.45 598.87,131.51 599.95,131.57 601.04,131.66 602.12,131.75 603.21,131.84 604.30,131.93 605.38,132.00 606.47,132.04 607.55,132.06 608.64,131.99 609.72,131.79 610.81,131.49 611.89,131.14 612.98,130.75 614.06,130.37 615.15,130.02 616.23,129.74 617.32,129.56 618.40,129.44 619.49,129.33 620.57,129.22 621.66,129.11 622.74,129.02 623.83,128.94 624.91,128.87 626.00,128.81 627.08,128.76 628.17,128.74 629.25,128.73 630.34,128.75 631.42,128.81 632.51,128.90 633.59,129.01 634.68,129.11 635.76,129.20 636.85,129.26 637.93,129.28 639.02,129.20 640.10,128.98 641.19,128.65 642.27,128.26 643.36,127.84 644.44,127.42 645.53,127.06 646.61,126.78 647.70,126.55 648.78,126.31 649.87,126.08 650.95,125.86 652.04,125.68 653.12,125.53 654.21,125.43 655.29,125.39 656.38,125.39 657.46,125.39 658.55,125.39 659.63,125.39 660.72,125.39 661.80,125.39 662.89,125.39 663.98,125.39" fill="none" stroke="rgb(122,142,165)" stroke-width="2.5" stroke-linejoin="round" stroke-linecap="square"/>
<polyline points="121.43,451.90 132.28,406.32 143.13,358.25 153.98,323.52 164.83,297.95 175.68,278.50 186.54,264.05 197.39,257.11 208.24,251.27 219.09,232.93 229.94,216.81 240.79,205.70 251.64,196.25 262.49,192.92 273.34,190.97 284.19,183.19 295.04,174.86 305.90,167.91 316.75,163.74 327.60,161.24 338.45,160.96 349.30,159.57 360.15,155.68 371.00,154.85 381.85,154.57 392.70,149.29 403.55,145.68 414.40,143.18 425.26,138.45 436.11,139.01 446.96,143.73 457.81,142.34 468.66,137.90 479.51,137.34 490.36,129.28 501.21,122.61 512.06,121.78 522.91,121.23 533.76,120.39 544.62,115.67 555.47,113.44 566.32,113.44 577.17,115.11 588.02,117.33 598.87,119.00 609.72,116.50 620.57,109.55 631.42,103.72 642.27,102.89 653.12,104.00 663.98,103.72" fill="none" stroke="rgb(108,46,90)" stroke-width="2.5" stroke-linejoin="round" stroke-linecap="square"/>
<rect x="94.3" y="17.3" width="596.8" height="444.59999999999997" fill="none" stroke="#000" stroke-width="1.35"/>
<path d="M121.43,461.9v5.85 M229.94,461.9v5.85 M338.45,461.9v5.85 M446.96,461.9v5.85 M555.47,461.9v5.85 M663.98,461.9v5.85 M94.3,461.90h-5.85 M94.3,406.32h-5.85 M94.3,350.75h-5.85 M94.3,295.17h-5.85 M94.3,239.60h-5.85 M94.3,184.02h-5.85 M94.3,128.45h-5.85 M94.3,72.87h-5.85 M94.3,17.30h-5.85" stroke="#000" stroke-width="1.35" fill="none"/>
<rect x="357.5" y="27.5" width="323.1" height="64.6" rx="4" ry="4" fill="#fff" fill-opacity="0.8" stroke="#d6d6d6" stroke-width="1.6"/>
<path d="M365.6,43.4H405.3" stroke="rgb(122,142,165)" stroke-width="2.5" stroke-linecap="square"/>
<path d="M365.6,73.1H405.3" stroke="rgb(108,46,90)" stroke-width="2.5" stroke-linecap="square"/>
<g class="t"><text x="121.43" y="486.3" text-anchor="middle" font-size="16.7">0</text>
<text x="229.94" y="486.3" text-anchor="middle" font-size="16.7">100</text>
<text x="338.45" y="486.3" text-anchor="middle" font-size="16.7">200</text>
<text x="446.96" y="486.3" text-anchor="middle" font-size="16.7">300</text>
<text x="555.47" y="486.3" text-anchor="middle" font-size="16.7">400</text>
<text x="663.98" y="486.3" text-anchor="middle" font-size="16.7">500</text>
<text x="82.6" y="468" text-anchor="end" font-size="16.7">0</text>
<text x="82.6" y="413" text-anchor="end" font-size="16.7">200</text>
<text x="82.6" y="357" text-anchor="end" font-size="16.7">400</text>
<text x="82.6" y="302" text-anchor="end" font-size="16.7">600</text>
<text x="82.6" y="246" text-anchor="end" font-size="16.7">800</text>
<text x="82.6" y="190" text-anchor="end" font-size="16.7">1000</text>
<text x="82.6" y="135" text-anchor="end" font-size="16.7">1200</text>
<text x="82.6" y="79" text-anchor="end" font-size="16.7">1400</text>
<text x="82.6" y="24" text-anchor="end" font-size="16.7">1600</text>
<text x="392.6" y="511.5" text-anchor="middle" font-size="20.1">Generation</text>
<text transform="translate(29.2,239.0) rotate(-90)" text-anchor="middle" font-size="20.25">Distance Walked</text>
<text x="422.0" y="49.8" font-size="20.1">Hebbian</text>
<text x="422.0" y="79.6" font-size="20.1">Coevolved initial weights</text></g>
</svg>
</body></html>
